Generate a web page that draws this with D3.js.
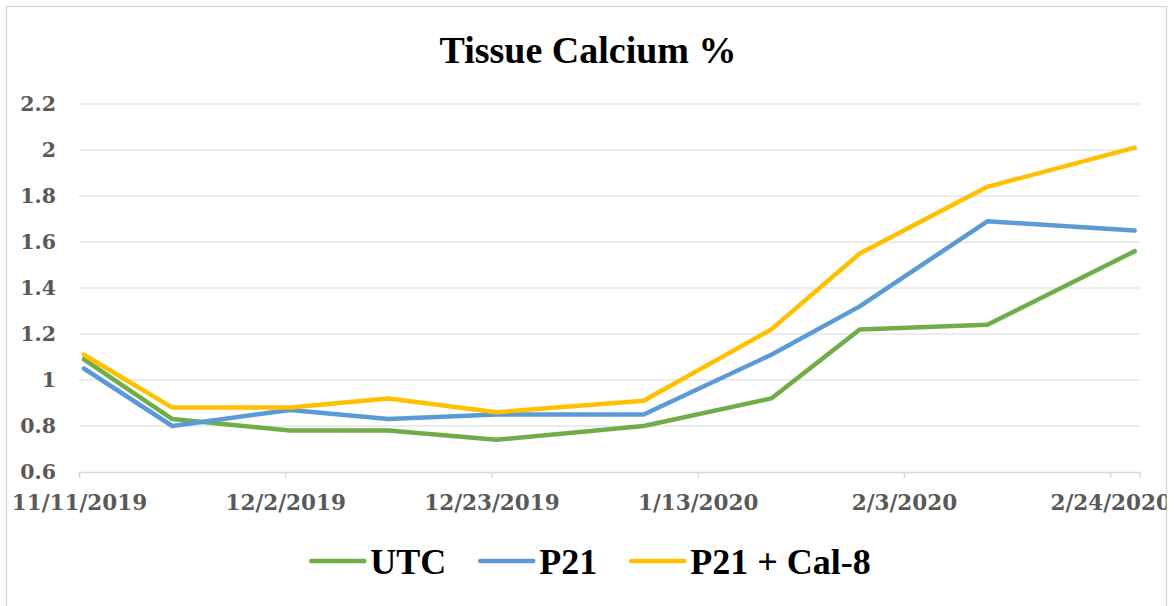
<!DOCTYPE html>
<html>
<head>
<meta charset="utf-8">
<script src="https://cdn.jsdelivr.net/npm/d3@7"></script>
<style>
  body { margin: 0; background: #fff; }
  svg { display: block; }
</style>
</head>
<body>
<svg id="chart" width="1174" height="606"></svg>
<script>
// Tissue Calcium % line chart
const sampleDates = ["2019-11-11", "2019-11-20", "2019-12-02", "2019-12-12", "2019-12-23",
                     "2020-01-07", "2020-01-20", "2020-01-29", "2020-02-11", "2020-02-26"];
const utcValues = [1.09, 0.83, 0.78, 0.78, 0.74, 0.80, 0.92, 1.22, 1.24, 1.56];
const p21Values = [1.05, 0.80, 0.87, 0.83, 0.85, 0.85, 1.11, 1.32, 1.69, 1.65];
const calValues = [1.11, 0.88, 0.88, 0.92, 0.86, 0.91, 1.22, 1.55, 1.84, 2.01];
const seriesNames = ["UTC", "P21", "P21 + Cal-8"];
const seriesColors = ["#70AD47", "#5B9BD5", "#FFC000"];
const tickDates = ["2019-11-11", "2019-12-02", "2019-12-23", "2020-01-13", "2020-02-03", "2020-02-24"];
const yTicks = [0.6, 0.8, 1.0, 1.2, 1.4, 1.6, 1.8, 2.0, 2.2];
const axisStart = "2019-11-11", axisEnd = "2020-02-27";

const parse = d3.utcParse("%Y-%m-%d");
const fmtDate = d3.utcFormat("%-m/%-d/%Y");

const svg = d3.select("#chart");
const margin = { left: 79, right: 1139.6, top: 104, bottom: 472 };

const x = d3.scaleUtc().domain([parse(axisStart), parse(axisEnd)]).range([margin.left, margin.right]);
const y = d3.scaleLinear().domain([0.6, 2.2]).range([margin.bottom, margin.top]);

// chart area clip (long labels get cut at the border like in Excel)
svg.append("clipPath").attr("id", "area-clip")
    .append("rect").attr("x", 6.5).attr("y", 6.5).attr("width", 1160).attr("height", 620);

// chart border
svg.append("rect").attr("x", 6.5).attr("y", 6.5).attr("width", 1160).attr("height", 620)
    .attr("fill", "#fff").attr("stroke", "#d9d9d9").attr("stroke-width", 1.3);

const g = svg.append("g").attr("clip-path", "url(#area-clip)");

// title
g.append("text").attr("x", 588).attr("y", 63).attr("text-anchor", "middle")
    .attr("font-family", "Liberation Serif").attr("font-weight", "bold").attr("font-size", 38)
    .attr("fill", "#000").text("Tissue Calcium %");

// gridlines
g.append("g").selectAll("line").data(yTicks.slice(1)).enter().append("line")
    .attr("x1", margin.left).attr("x2", margin.right)
    .attr("y1", d => y(d)).attr("y2", d => y(d))
    .attr("stroke", "#e6e6e6").attr("stroke-width", 1.4);

// y axis labels
const yAxis = g.append("g").attr("transform", `translate(${margin.left},0)`)
    .call(d3.axisLeft(y).tickValues(yTicks).tickSize(0).tickPadding(23).tickFormat(d => String(+d.toFixed(1))));
yAxis.select(".domain").remove();
yAxis.selectAll("text").attr("font-family", "DejaVu Serif").attr("font-weight", "bold")
    .attr("font-size", 20.5).attr("fill", "#595959");

// x axis
const xAxis = g.append("g").attr("transform", `translate(0,${margin.bottom})`)
    .call(d3.axisBottom(x).tickValues(tickDates.map(parse)).tickSize(6).tickPadding(17).tickFormat(fmtDate));
xAxis.select(".domain").attr("stroke", "#d9d9d9").attr("stroke-width", 1.5);
xAxis.selectAll(".tick line").attr("stroke", "#d9d9d9").attr("stroke-width", 1.5);
xAxis.selectAll("text").attr("font-family", "DejaVu Serif").attr("font-weight", "bold")
    .attr("font-size", 21.5).attr("fill", "#595959");

// lines (points sit in the middle of their day slot)
const series = [utcValues, p21Values, calValues].map((vals, i) => ({
    name: seriesNames[i], color: seriesColors[i],
    values: vals.map((v, j) => ({ date: d3.utcHour.offset(parse(sampleDates[j]), 12), value: v }))
}));

const line = d3.line().x(d => x(d.date)).y(d => y(d.value));

g.append("g").selectAll("path").data(series).enter().append("path")
    .attr("d", d => line(d.values))
    .attr("fill", "none").attr("stroke", d => d.color).attr("stroke-width", 4.5)
    .attr("stroke-linejoin", "round").attr("stroke-linecap", "round");

// legend
const legend = g.append("g");
const items = legend.selectAll("g").data(series).enter().append("g");
items.append("line").attr("x1", 0).attr("x2", 53).attr("y1", 0).attr("y2", 0)
    .attr("stroke", d => d.color).attr("stroke-width", 4.5).attr("stroke-linecap", "round");
items.append("text").attr("x", 59).attr("y", 12.5)
    .attr("font-family", "Liberation Serif").attr("font-weight", "bold").attr("font-size", 36)
    .attr("fill", "#000").text(d => d.name);

let offset = 0;
const widths = [];
items.each(function() {
    widths.push(59 + this.querySelector("text").getComputedTextLength());
});
const gap = 34;
const total = d3.sum(widths) + gap * (widths.length - 1);
items.attr("transform", (d, i) => {
    const tx = offset;
    offset += widths[i] + gap;
    return `translate(${tx},0)`;
});
legend.attr("transform", `translate(${591 - total / 2},561)`);
</script>
</body>
</html>
